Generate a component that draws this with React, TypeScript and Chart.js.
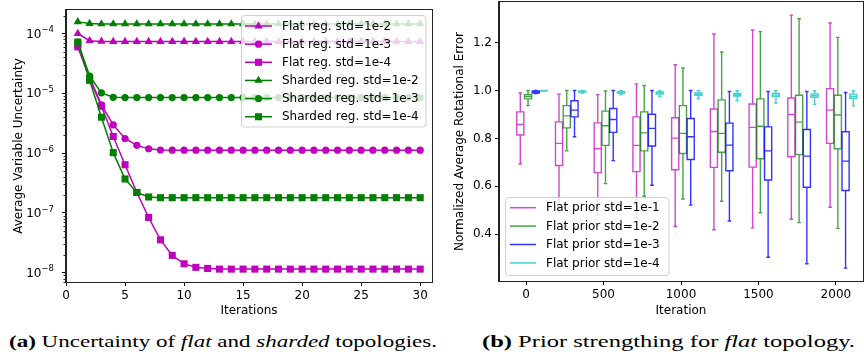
import React, { useEffect, useLayoutEffect, useRef } from "react";
import { Chart, registerables } from "chart.js";

Chart.register(...registerables);
Chart.defaults.font.family = '"DejaVu Sans", sans-serif';
Chart.defaults.font.size = 12;
Chart.defaults.color = "#000";

// ---------- Left panel data ----------
const iterations = [1, 2, 3, 4, 5, 6, 7, 8, 9, 10, 11, 12, 13, 14, 15, 16, 17, 18, 19, 20, 21, 22, 23, 24, 25, 26, 27, 28, 29, 30];
const flatStd1e2 = [1.0e-4, 7.6e-5, 7.4e-5, 7.35e-5, 7.35e-5, 7.35e-5, 7.35e-5, 7.35e-5, 7.35e-5, 7.35e-5, 7.35e-5, 7.35e-5, 7.35e-5, 7.35e-5, 7.35e-5, 7.35e-5, 7.35e-5, 7.35e-5, 7.35e-5, 7.35e-5, 7.35e-5, 7.35e-5, 7.35e-5, 7.35e-5, 7.35e-5, 7.35e-5, 7.35e-5, 7.35e-5, 7.35e-5, 7.35e-5];
const flatStd1e3 = [6.2e-5, 1.87e-5, 6.4e-6, 2.97e-6, 1.76e-6, 1.35e-6, 1.18e-6, 1.13e-6, 1.12e-6, 1.12e-6, 1.12e-6, 1.12e-6, 1.12e-6, 1.12e-6, 1.12e-6, 1.12e-6, 1.12e-6, 1.12e-6, 1.12e-6, 1.12e-6, 1.12e-6, 1.12e-6, 1.12e-6, 1.12e-6, 1.12e-6, 1.12e-6, 1.12e-6, 1.12e-6, 1.12e-6, 1.12e-6];
const flatStd1e4 = [6.0e-5, 1.75e-5, 6.1e-6, 1.9e-6, 6.4e-7, 2.2e-7, 8.4e-8, 3.55e-8, 1.95e-8, 1.41e-8, 1.23e-8, 1.18e-8, 1.15e-8, 1.15e-8, 1.15e-8, 1.15e-8, 1.15e-8, 1.15e-8, 1.15e-8, 1.15e-8, 1.15e-8, 1.15e-8, 1.15e-8, 1.15e-8, 1.15e-8, 1.15e-8, 1.15e-8, 1.15e-8, 1.15e-8, 1.15e-8];
const shardedStd1e2 = [1.57e-4, 1.47e-4, 1.45e-4, 1.45e-4, 1.45e-4, 1.45e-4, 1.45e-4, 1.45e-4, 1.45e-4, 1.45e-4, 1.45e-4, 1.45e-4, 1.45e-4, 1.45e-4, 1.45e-4, 1.45e-4, 1.45e-4, 1.45e-4, 1.45e-4, 1.45e-4, 1.45e-4, 1.45e-4, 1.45e-4, 1.45e-4, 1.45e-4, 1.45e-4, 1.45e-4, 1.45e-4, 1.45e-4, 1.45e-4];
const shardedStd1e3 = [7.2e-5, 1.95e-5, 1.02e-5, 8.6e-6, 8.5e-6, 8.5e-6, 8.5e-6, 8.5e-6, 8.5e-6, 8.5e-6, 8.5e-6, 8.5e-6, 8.5e-6, 8.5e-6, 8.5e-6, 8.5e-6, 8.5e-6, 8.5e-6, 8.5e-6, 8.5e-6, 8.5e-6, 8.5e-6, 8.5e-6, 8.5e-6, 8.5e-6, 8.5e-6, 8.5e-6, 8.5e-6, 8.5e-6, 8.5e-6];
const shardedStd1e4 = [7.2e-5, 1.65e-5, 4.0e-6, 1.02e-6, 3.7e-7, 2.2e-7, 1.85e-7, 1.8e-7, 1.8e-7, 1.8e-7, 1.8e-7, 1.8e-7, 1.8e-7, 1.8e-7, 1.8e-7, 1.8e-7, 1.8e-7, 1.8e-7, 1.8e-7, 1.8e-7, 1.8e-7, 1.8e-7, 1.8e-7, 1.8e-7, 1.8e-7, 1.8e-7, 1.8e-7, 1.8e-7, 1.8e-7, 1.8e-7];
const leftSeriesLabels = ["Flat reg. std=1e-2", "Flat reg. std=1e-3", "Flat reg. std=1e-4", "Sharded reg. std=1e-2", "Sharded reg. std=1e-3", "Sharded reg. std=1e-4"];
const leftXTicks = [0, 5, 10, 15, 20, 25, 30];
const leftYExponents = [-8, -7, -6, -5, -4];

// ---------- Right panel data: [lower whisker, Q1, median, Q3, upper whisker] ----------
const groupIterations = [0, 250, 500, 750, 1000, 1250, 1500, 1750, 2000];
const prior1e1 = [
  [0.693, 0.814, 0.858, 0.911, 0.990],
  [0.490, 0.687, 0.779, 0.869, 0.985],
  [0.480, 0.657, 0.757, 0.865, 0.983],
  [0.467, 0.661, 0.771, 0.890, 1.028],
  [0.432, 0.669, 0.801, 0.886, 1.108],
  [0.418, 0.679, 0.829, 0.923, 1.236],
  [0.426, 0.680, 0.846, 0.944, 1.253],
  [0.462, 0.723, 0.900, 0.969, 1.315],
  [0.512, 0.779, 0.918, 1.008, 1.282],
];
const prior1e2 = [
  [0.937, 0.965, 0.975, 0.983, 1.000],
  [0.748, 0.844, 0.894, 0.937, 1.000],
  [0.611, 0.771, 0.853, 0.914, 0.998],
  [0.558, 0.748, 0.823, 0.911, 1.021],
  [0.547, 0.737, 0.821, 0.937, 1.094],
  [0.537, 0.742, 0.821, 0.961, 1.161],
  [0.489, 0.715, 0.851, 0.965, 1.246],
  [0.448, 0.732, 0.868, 0.980, 1.300],
  [0.424, 0.757, 0.898, 0.980, 1.222],
];
const prior1e3 = [
  [0.987, 0.990, 0.995, 0.998, 1.000],
  [0.807, 0.890, 0.918, 0.957, 1.000],
  [0.707, 0.825, 0.879, 0.925, 1.000],
  [0.604, 0.768, 0.842, 0.901, 1.000],
  [0.521, 0.712, 0.807, 0.883, 1.000],
  [0.455, 0.665, 0.772, 0.864, 0.996],
  [0.303, 0.626, 0.748, 0.848, 0.996],
  [0.276, 0.596, 0.726, 0.837, 0.996],
  [0.258, 0.582, 0.705, 0.828, 0.992],
];
const prior1e4 = [
  [0.997, 0.998, 0.999, 1.000, 1.000],
  [0.990, 0.994, 0.996, 0.998, 1.000],
  [0.982, 0.988, 0.992, 0.995, 0.999],
  [0.975, 0.985, 0.990, 0.994, 0.999],
  [0.965, 0.980, 0.985, 0.990, 0.999],
  [0.958, 0.977, 0.983, 0.988, 0.999],
  [0.948, 0.975, 0.982, 0.988, 0.999],
  [0.942, 0.972, 0.979, 0.986, 0.999],
  [0.936, 0.968, 0.976, 0.985, 0.999],
];
const rightSeriesLabels = ["Flat prior std=1e-1", "Flat prior std=1e-2", "Flat prior std=1e-3", "Flat prior std=1e-4"];
const rightXTicks = [0, 500, 1000, 1500, 2000];
const rightYTicks = [0.4, 0.6, 0.8, 1.0, 1.2];

// ---------- styles ----------
const MAGENTA = "#bf00bf";
const GREEN = "#008000";
const leftColors = [MAGENTA, MAGENTA, MAGENTA, GREEN, GREEN, GREEN];
const leftMarkers = ["triangle", "circle", "rect", "triangle", "circle", "rect"];
const leftRadius = { triangle: 4.8, circle: 3.6, rect: 5 };
const boxColors = ["rgba(191,0,191,0.72)", "rgba(0,128,0,0.72)", "rgba(0,0,255,0.8)", "rgba(0,191,191,0.72)"];
const boxOffsets = [-37.5, 12.5, 62.5, 112.5];
const BOX_W = 46;

function drawMarker(ctx: CanvasRenderingContext2D, style: string, x: number, y: number, r: number) {
  ctx.beginPath();
  if (style === "circle") {
    ctx.arc(x, y, r, 0, Math.PI * 2);
  } else if (style === "rect") {
    const s = r * Math.SQRT1_2;
    ctx.rect(x - s, y - s, 2 * s, 2 * s);
  } else {
    ctx.moveTo(x, y - r);
    ctx.lineTo(x + r * Math.sin((2 * Math.PI) / 3), y - r * Math.cos((2 * Math.PI) / 3));
    ctx.lineTo(x + r * Math.sin((4 * Math.PI) / 3), y - r * Math.cos((4 * Math.PI) / 3));
    ctx.closePath();
  }
  ctx.fill();
}

function roundRect(ctx: CanvasRenderingContext2D, x: number, y: number, w: number, h: number, r: number) {
  ctx.beginPath();
  ctx.moveTo(x + r, y);
  ctx.lineTo(x + w - r, y);
  ctx.arcTo(x + w, y, x + w, y + r, r);
  ctx.lineTo(x + w, y + h - r);
  ctx.arcTo(x + w, y + h, x + w - r, y + h, r);
  ctx.lineTo(x + r, y + h);
  ctx.arcTo(x, y + h, x, y + h - r, r);
  ctx.lineTo(x, y + r);
  ctx.arcTo(x, y, x + r, y, r);
  ctx.closePath();
}

const framePlugin = {
  id: "frame",
  afterDraw(chart: any) {
    const { ctx, chartArea: a } = chart;
    ctx.save();
    ctx.strokeStyle = "#222";
    ctx.lineWidth = 1;
    ctx.strokeRect(Math.round(a.left) - 0.5, Math.round(a.top) - 0.5, Math.round(a.right - a.left) + 1, Math.round(a.bottom - a.top) + 1);
    ctx.restore();
  },
};

const leftDecorPlugin = {
  id: "leftDecor",
  afterDatasetsDraw(chart: any) {
    const { ctx, chartArea: a } = chart;
    const y = chart.scales.y;
    ctx.save();
    // minor log ticks
    ctx.strokeStyle = "#000";
    ctx.lineWidth = 0.8;
    for (let e = -9; e <= -4; e++) {
      for (let m = 2; m <= 9; m++) {
        const v = m * Math.pow(10, e);
        if (v < y.min || v > y.max) continue;
        const py = Math.round(y.getPixelForValue(v)) + 0.5;
        ctx.beginPath();
        ctx.moveTo(a.left - 2.5, py);
        ctx.lineTo(a.left, py);
        ctx.stroke();
      }
    }
    // log tick labels 10^e (mathtext style)
    ctx.fillStyle = "#000";
    ctx.textBaseline = "middle";
    ctx.textAlign = "left";
    leftYExponents.forEach((e) => {
      const py = y.getPixelForValue(Math.pow(10, e));
      const expText = "\u2212" + String(Math.abs(e));
      ctx.font = '8.5px "DejaVu Sans"';
      const ew = ctx.measureText(expText).width;
      ctx.font = '12px "DejaVu Sans"';
      const bw = ctx.measureText("10").width;
      const right = a.left - 12;
      ctx.fillText("10", right - ew - bw, py + 0.8);
      ctx.font = '8.5px "DejaVu Sans"';
      ctx.fillText(expText, right - ew, py - 3.6);
    });
    // legend
    const lx = 241.5, ly = 15.5, lw = 184.5, lh = 111.5;
    roundRect(ctx, lx, ly, lw, lh, 3);
    ctx.fillStyle = "rgba(255,255,255,0.8)";
    ctx.fill();
    ctx.strokeStyle = "rgba(204,204,204,0.9)";
    ctx.lineWidth = 1;
    ctx.stroke();
    ctx.font = '12px "DejaVu Sans"';
    ctx.textBaseline = "middle";
    ctx.textAlign = "left";
    leftSeriesLabels.forEach((lab, i) => {
      const ry = 26 + i * 18.15;
      ctx.strokeStyle = leftColors[i];
      ctx.fillStyle = leftColors[i];
      ctx.lineWidth = 1.5;
      ctx.beginPath();
      ctx.moveTo(245, ry);
      ctx.lineTo(272, ry);
      ctx.stroke();
      drawMarker(ctx, leftMarkers[i], 258.5, ry, (leftRadius as any)[leftMarkers[i]]);
      ctx.fillStyle = "#000";
      ctx.fillText(lab, 282, ry + 0.5);
    });
    ctx.restore();
  },
};

const boxPlugin = {
  id: "boxes",
  afterDatasetsDraw(chart: any) {
    const { ctx } = chart;
    const x = chart.scales.x;
    const y = chart.scales.y;
    const series = [prior1e1, prior1e2, prior1e3, prior1e4];
    ctx.save();
    ctx.lineWidth = 1.4;
    series.forEach((s, k) => {
      ctx.strokeStyle = boxColors[k];
      s.forEach((d, g) => {
        const pos = groupIterations[g] + boxOffsets[k];
        const cx = x.getPixelForValue(pos);
        const half = (x.getPixelForValue(pos + BOX_W / 2) - x.getPixelForValue(pos - BOX_W / 2)) / 2;
        const [lo, q1, med, q3, hi] = d.map((v) => y.getPixelForValue(v));
        ctx.beginPath();
        ctx.rect(cx - half, q3, 2 * half, q1 - q3);
        ctx.moveTo(cx - half, med);
        ctx.lineTo(cx + half, med);
        ctx.moveTo(cx, q3);
        ctx.lineTo(cx, hi);
        ctx.moveTo(cx, q1);
        ctx.lineTo(cx, lo);
        ctx.moveTo(cx - half / 2, hi);
        ctx.lineTo(cx + half / 2, hi);
        ctx.moveTo(cx - half / 2, lo);
        ctx.lineTo(cx + half / 2, lo);
        ctx.stroke();
      });
    });
    // legend
    const lx = 65.5, ly = 197.5, lw = 163.5, lh = 78;
    roundRect(ctx, lx, ly, lw, lh, 3);
    ctx.fillStyle = "rgba(255,255,255,0.8)";
    ctx.fill();
    ctx.strokeStyle = "rgba(204,204,204,0.9)";
    ctx.lineWidth = 1;
    ctx.stroke();
    ctx.font = '12px "DejaVu Sans"';
    ctx.textBaseline = "middle";
    ctx.textAlign = "left";
    rightSeriesLabels.forEach((lab, i) => {
      const ry = 207.7 + i * 18.4;
      ctx.strokeStyle = boxColors[i];
      ctx.lineWidth = 1.5;
      ctx.beginPath();
      ctx.moveTo(70, ry);
      ctx.lineTo(96, ry);
      ctx.stroke();
      ctx.fillStyle = "#000";
      ctx.fillText(lab, 106, ry + 0.5);
    });
    ctx.restore();
  },
};

const tickFont = { family: '"DejaVu Sans"', size: 12 };
const zeroPad = (s: any) => {
  s.paddingTop = 0;
  s.paddingBottom = 0;
  s.paddingLeft = 0;
  s.paddingRight = 0;
};

function LeftChart() {
  const ref = useRef<HTMLCanvasElement>(null);
  useEffect(() => {
    const series = [flatStd1e2, flatStd1e3, flatStd1e4, shardedStd1e2, shardedStd1e3, shardedStd1e4];
    const chart = new Chart(ref.current!, {
      type: "scatter",
      data: {
        datasets: series.map((s, i) => ({
          label: leftSeriesLabels[i],
          data: iterations.map((it, j) => ({ x: it, y: s[j] })),
          showLine: true,
          borderColor: leftColors[i],
          backgroundColor: leftColors[i],
          borderWidth: 1.5,
          pointStyle: leftMarkers[i] as any,
          pointRadius: (leftRadius as any)[leftMarkers[i]],
          pointBorderWidth: 0,
          pointBackgroundColor: leftColors[i],
          order: 5 - i,
        })),
      },
      options: {
        responsive: false,
        animation: false,
        layout: { padding: { top: 10, right: 8, left: 0, bottom: 0 } },
        plugins: { legend: { display: false }, tooltip: { enabled: false } },
        scales: {
          x: {
            type: "linear",
            min: 0,
            max: 31,
            afterFit: (s: any) => { s.height = 40; zeroPad(s); },
            afterBuildTicks: (s: any) => { s.ticks = leftXTicks.map((v) => ({ value: v })); },
            ticks: { font: tickFont, color: "#000", padding: 3, callback: (v: any) => String(v) },
            grid: { drawOnChartArea: false, drawTicks: true, tickLength: 4, tickColor: "#000" },
            border: { display: true, color: "#222" },
            title: { display: true, text: "Iterations", font: tickFont, color: "#000", padding: { top: 0, bottom: 4 } },
          },
          y: {
            type: "logarithmic",
            min: 7.08e-9,
            max: 2.48e-4,
            afterFit: (s: any) => { s.width = 66; zeroPad(s); },
            afterBuildTicks: (s: any) => { s.ticks = leftYExponents.map((e) => ({ value: Math.pow(10, e) })); },
            ticks: { font: tickFont, color: "#000", padding: 3, callback: () => "" },
            grid: { drawOnChartArea: false, drawTicks: true, tickLength: 4, tickColor: "#000" },
            border: { display: true, color: "#222" },
            title: { display: true, text: "Average Variable Uncertainty", font: tickFont, color: "#000", padding: { top: 11.8, bottom: 0 } },
          },
        },
      },
      plugins: [framePlugin, leftDecorPlugin],
    } as any);
    return () => chart.destroy();
  }, []);
  return <canvas ref={ref} width={440} height={322} style={{ position: "absolute", left: 0, top: 0, display: "block" }} />;
}

function RightChart() {
  const ref = useRef<HTMLCanvasElement>(null);
  useEffect(() => {
    const chart = new Chart(ref.current!, {
      type: "scatter",
      data: { datasets: [{ label: "boxes", data: [], pointRadius: 0 }] },
      options: {
        responsive: false,
        animation: false,
        layout: { padding: { top: 2, right: 1, left: 0, bottom: 0 } },
        plugins: { legend: { display: false }, tooltip: { enabled: false } },
        scales: {
          x: {
            type: "linear",
            min: -175,
            max: 2175,
            afterFit: (s: any) => { s.height = 41; zeroPad(s); },
            afterBuildTicks: (s: any) => { s.ticks = rightXTicks.map((v) => ({ value: v })); },
            ticks: { font: tickFont, color: "#000", padding: 3, callback: (v: any) => String(v) },
            grid: { drawOnChartArea: false, drawTicks: true, tickLength: 4, tickColor: "#000" },
            border: { display: true, color: "#222" },
            title: { display: true, text: "Iteration", font: tickFont, color: "#000", padding: { top: 0, bottom: 4 } },
          },
          y: {
            type: "linear",
            min: 0.204,
            max: 1.37,
            afterFit: (s: any) => { s.width = 59; zeroPad(s); },
            afterBuildTicks: (s: any) => { s.ticks = rightYTicks.map((v) => ({ value: v })); },
            ticks: { font: tickFont, color: "#000", padding: 3, callback: (v: any) => Number(v).toFixed(1) },
            grid: { drawOnChartArea: false, drawTicks: true, tickLength: 4, tickColor: "#000" },
            border: { display: true, color: "#222" },
            title: { display: true, text: "Normalized Average Rotational Error", font: tickFont, color: "#000", padding: { top: 12.8, bottom: 0 } },
          },
        },
      },
      plugins: [framePlugin, boxPlugin],
    } as any);
    return () => chart.destroy();
  }, []);
  return <canvas ref={ref} width={424} height={322} style={{ position: "absolute", left: 440, top: 0, display: "block" }} />;
}

function Caption({ left, width, children }: { left: number; width: number; children: React.ReactNode }) {
  const ref = useRef<HTMLDivElement>(null);
  useLayoutEffect(() => {
    const el = ref.current!;
    el.style.transform = "none";
    const w = el.getBoundingClientRect().width;
    if (w > 0) el.style.transform = `scaleX(${width / w})`;
  }, [width]);
  return (
    <div
      ref={ref}
      style={{
        position: "absolute",
        left,
        top: 331,
        fontFamily: '"Liberation Serif", "DejaVu Serif", serif',
        fontSize: 17.5,
        whiteSpace: "nowrap",
        color: "#000",
        lineHeight: "20px",
        transformOrigin: "0 50%",
      }}
    >
      {children}
    </div>
  );
}

export default function App() {
  return (
    <div style={{ position: "absolute", left: 0, top: 0, width: 864, height: 354, background: "#fff", overflow: "hidden" }}>
      <LeftChart />
      <RightChart />
      <Caption left={9} width={428}>
        <b>(a)</b> Uncertainty of <i>flat</i> and <i>sharded</i> topologies.
      </Caption>
      <Caption left={482} width={373}>
        <b>(b)</b> Prior strengthing for <i>flat</i> topology.
      </Caption>
    </div>
  );
}
